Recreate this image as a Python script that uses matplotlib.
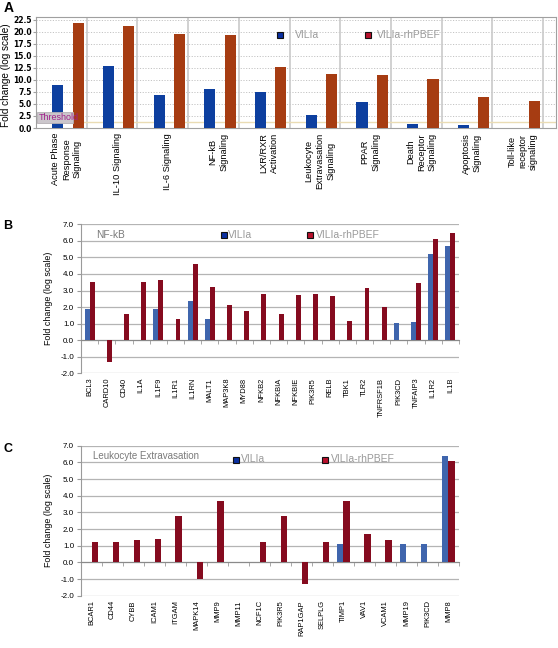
import matplotlib
matplotlib.use('Agg')
import matplotlib.pyplot as plt
from matplotlib.patches import Rectangle
import numpy as np

plt.rcParams['font.family'] = ['Liberation Sans', 'DejaVu Sans']

# ---------------- data ----------------
pathways = ["Acute Phase\nResponse\nSignaling", "IL-10 Signaling", "IL-6 Signaling",
            "NF-kB\nSignaling", "LXR/RXR\nActivation", "Leukocyte\nExtravasation\nSignaling",
            "PPAR\nSignaling", "Death\nReceptor\nSignaling", "Apoptosis\nSignaling",
            "Toll-like\nreceptor\nsignaling"]
a_vilia = [8.9, 13.0, 6.8, 8.1, 7.5, 2.7, 5.35, 0.8, 0.55, 0.0]
a_pbef = [21.9, 21.2, 19.6, 19.4, 12.6, 11.2, 11.1, 10.3, 6.5, 5.7]
a_threshold = 1.25
a_yticks = [0.0, 2.5, 5.0, 7.5, 10.0, 12.5, 15.0, 17.5, 20.0, 22.5]

b_genes = ["BCL3", "CARD10", "CD40", "IL1A", "IL1F9", "IL1R1", "IL1RN", "MALT1", "MAP3K8",
           "MYD88", "NFKB2", "NFKBIA", "NFKBIE", "PIK3R5", "RELB", "TBK1", "TLR2",
           "TNFRSF1B", "PIK3CD", "TNFAIP3", "IL1R2", "IL1B"]
b_vilia = [1.86, 0, 0, 0, 1.9, 0, 2.38, 1.31, 0, 0, 0, 0, 0, 0, 0, 0, 0, 0, 1.05, 1.09, 5.2, 5.69]
b_pbef = [3.5, -1.31, 1.6, 3.5, 3.64, 1.29, 4.63, 3.19, 2.1, 1.76, 2.77, 1.57, 2.72, 2.76,
          2.68, 1.15, 3.18, 1.98, 0, 3.45, 6.09, 6.45]

c_genes = ["BCAR1", "CD44", "CYBB", "ICAM1", "ITGAM", "MAPK14", "MMP9", "MMP11", "NCF1C",
           "PIK3R5", "RAP1GAP", "SELPLG", "TIMP1", "VAV1", "VCAM1", "MMP19", "PIK3CD", "MMP8"]
c_vilia = [0, 0, 0, 0, 0, 0, 0, 0, 0, 0, 0, 0, 1.1, 0, 0, 1.08, 1.08, 6.4]
c_pbef = [1.2, 1.24, 1.34, 1.4, 2.76, -1.0, 3.68, 0, 1.24, 2.76, -1.32, 1.24, 3.66, 1.7,
          1.32, 0, 0, 6.06]

gene_yticks = [-2.0, -1.0, 0.0, 1.0, 2.0, 3.0, 4.0, 5.0, 6.0, 7.0]

series_names = ["VILIa", "VILIa-rhPBEF"]

# ---------------- figure ----------------
W, H = 558, 648
fig = plt.figure(figsize=(W / 100, H / 100), dpi=100)


def px_rect(x0, y0, x1, y1):
    return [x0 / W, 1 - y1 / H, (x1 - x0) / W, (y1 - y0) / H]


# ---------------- Panel A ----------------
blueA, orangeA = '#0d3f9f', '#a63c12'
axA = fig.add_axes(px_rect(36, 17, 556, 128))
n = len(pathways)
xa = np.arange(n)
axA.bar(xa + 0.43, a_vilia, 0.22, color=blueA, zorder=3)
axA.bar(xa + 0.83, a_pbef, 0.22, color=orangeA, zorder=3)
axA.set_xlim(0, n + 13 / 50.7)
axA.set_ylim(0, 23.1)
axA.set_yticks(a_yticks)
axA.set_yticklabels([f"{v:.1f}" for v in a_yticks], fontsize=5.5, fontweight='bold',
                    family='DejaVu Sans')
axA.yaxis.grid(True, color='#c4c4c4', linestyle=(0, (1.2, 1.6)), lw=0.7)
axA.set_axisbelow(True)
for b in range(1, n + 1):
    axA.axvline(b, color='#cacaca', lw=1.2, zorder=1)
for s in axA.spines.values():
    s.set_color('#a0a0a0')
axA.axhline(a_threshold, color='#eadcb4', lw=1.0, zorder=2)
axA.set_xticks(xa + 0.6)
axA.set_xticklabels(pathways, rotation=90, fontsize=6.7)
for t in axA.get_xticklabels():
    t.set_multialignment('center')
    t.set_linespacing(1.25)
axA.tick_params(axis='x', length=0, pad=3.5)
axA.tick_params(axis='y', length=2, pad=1, color='#a0a0a0')
axA.set_ylabel("Fold change (log scale)", fontsize=7.2)
axA.yaxis.set_label_coords(-0.048, 0.48)

rect = Rectangle((0.02, 1.04), 0.71, 2.3, facecolor='#cbc6cb', edgecolor='#b5b0b5',
                 lw=0.6, zorder=5)
axA.add_patch(rect)
tt = axA.text(0.06, 2.15, "Threshold", fontsize=6.5, color='#a0208a', va='center',
              ha='left', zorder=6)
tt.set_clip_path(rect)

axA.plot([0.470], [0.838], marker='s', ms=5, mfc='#0a2fa0', mec='#111111', mew=0.8,
         transform=axA.transAxes, clip_on=False, zorder=6)
axA.text(0.498, 0.838, series_names[0], transform=axA.transAxes, va='center',
         fontsize=7.5, color='#9a9a9a')
axA.plot([0.6375], [0.838], marker='s', ms=5, mfc='#b8102c', mec='#111111', mew=0.8,
         transform=axA.transAxes, clip_on=False, zorder=6)
axA.text(0.656, 0.838, series_names[1], transform=axA.transAxes, va='center',
         fontsize=7.5, color='#9a9a9a')

# ---------------- Panels B & C ----------------
blueB, redB = '#3f65ad', '#850b1f'


def gene_panel(rect_px, genes, v1, v2, title, leg):
    ax = fig.add_axes(px_rect(*rect_px))
    hpx = rect_px[3] - rect_px[1]
    x = np.arange(len(genes))
    ax.bar(x - 0.145, v1, 0.29, color=blueB, zorder=3)
    ax.bar(x + 0.145, v2, 0.29, color=redB, zorder=3)
    ax.set_xlim(-0.5, len(genes) - 0.5)
    ax.set_ylim(-2, 7)
    ax.set_yticks(gene_yticks)
    ax.set_yticklabels([f"{v:.1f}" for v in gene_yticks], fontsize=5.8)
    ax.yaxis.grid(True, color='#b4b4b4', lw=0.9)
    ax.set_axisbelow(True)
    for s in ['top', 'right']:
        ax.spines[s].set_visible(False)
    ax.spines['left'].set_color('#9a9a9a')
    ax.spines['bottom'].set_position(('data', 0))
    ax.spines['bottom'].set_color('#8a8a8a')
    ax.set_xticks(x)
    ax.set_xticklabels(genes, rotation=90, fontsize=5.4)
    ax.set_xticks(np.arange(len(genes) + 1) - 0.5, minor=True)
    pad_pt = (2 / 9 * hpx + 4.5) * 72 / 100
    ax.tick_params(axis='x', which='major', length=0, pad=pad_pt)
    ax.tick_params(axis='x', which='minor', length=3, color='#9a9a9a', direction='out')
    ax.tick_params(axis='y', length=3, color='#9a9a9a', pad=2)
    ax.set_ylabel("Fold change (log scale)", fontsize=6.4)
    ax.yaxis.set_label_coords(-0.073, 0.5)
    ax.text(leg['title_x'], leg['title_y'], title, transform=ax.transAxes, va='center',
            fontsize=leg['title_fs'], color='#7a7a7a')
    ax.plot([leg['sq1']], [leg['y']], marker='s', ms=5, mfc='#0a2fa0', mec='#111111',
            mew=0.8, transform=ax.transAxes, clip_on=False, zorder=6)
    ax.text(leg['sq1'] + 0.012, leg['y'], series_names[0], transform=ax.transAxes,
            va='center', fontsize=7.5, color='#9a9a9a')
    ax.plot([leg['sq2']], [leg['y']], marker='s', ms=5, mfc='#b8102c', mec='#111111',
            mew=0.8, transform=ax.transAxes, clip_on=False, zorder=6)
    ax.text(leg['sq2'] + 0.016, leg['y'], series_names[1], transform=ax.transAxes,
            va='center', fontsize=7.5, color='#9a9a9a')
    return ax


axB = gene_panel((81, 224.3, 459, 373.3), b_genes, b_vilia, b_pbef, "NF-kB",
                 dict(title_x=0.04, title_y=0.925, y=0.925, sq1=0.377, sq2=0.6045,
                      title_fs=7.3))
axC = gene_panel((81, 445.7, 459, 595.7), c_genes, c_vilia, c_pbef, "Leukocyte Extravasation",
                 dict(title_x=0.032, title_y=0.931, y=0.908, sq1=0.411, sq2=0.646,
                      title_fs=7.0))

fig.text(4 / W, 1 - 1 / H, "A", fontsize=10, fontweight='bold', va='top', ha='left')
fig.text(3 / W, 1 - 220 / H, "B", fontsize=9, fontweight='bold', va='top', ha='left')
fig.text(3 / W, 1 - 443 / H, "C", fontsize=9, fontweight='bold', va='top', ha='left')

fig.savefig('out.png', dpi=100)
